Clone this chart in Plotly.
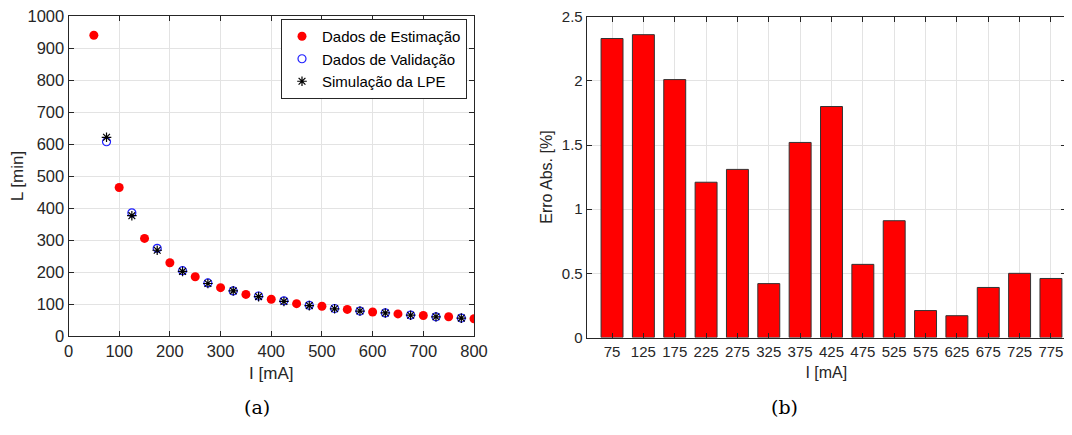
import plotly.graph_objects as go

# ---- data ----
est_I = [50, 100, 150, 200, 250, 300, 350, 400, 450, 500, 550, 600, 650, 700, 750, 800]
est_L = [940, 464, 305, 229, 185, 151, 130, 115, 101, 93, 83, 75, 69, 64, 60, 54]

val_I = [75, 125, 175, 225, 275, 325, 375, 425, 475, 525, 575, 625, 675, 725, 775]
val_L = [607, 385, 274, 204, 166, 141, 125, 110, 96, 86, 78, 72, 65.5, 60, 56]
sim_L = [621, 376, 268, 202, 164, 141, 123, 108, 95, 85, 78, 72, 65, 60, 56]

err_I = [75, 125, 175, 225, 275, 325, 375, 425, 475, 525, 575, 625, 675, 725, 775]
err_pct = [2.33, 2.36, 2.01, 1.21, 1.31, 0.42, 1.52, 1.80, 0.57, 0.91, 0.21, 0.17, 0.39, 0.50, 0.46]
err_labels = [str(v) for v in err_I]

# page body has an 8px default margin: figure is placed at (8, 8) in the window
OFF = 8
W, H = 1064, 427
FONT = "Liberation Sans"
AX = "#262626"
GRID = "#e3e3e3"

def px(x):
    return (x - OFF) / W

def py(y):
    return 1 - (y - OFF) / H

fig = go.Figure()

fig.add_trace(go.Scatter(
    x=est_I, y=est_L, mode="markers", name="Dados de Estimação",
    marker=dict(symbol="circle", size=9, color="#ff0000", line=dict(width=0)),
    xaxis="x", yaxis="y"))
fig.add_trace(go.Scatter(
    x=val_I, y=val_L, mode="markers", name="Dados de Validação",
    marker=dict(symbol="circle-open", size=8, color="#2020ff", line=dict(width=1.2)),
    xaxis="x", yaxis="y"))
fig.add_trace(go.Scatter(
    x=val_I, y=sim_L, mode="markers", name="Simulação da LPE",
    marker=dict(symbol="asterisk-open", size=8, color="#000000", line=dict(width=1.2, color="#000000")),
    xaxis="x", yaxis="y"))

fig.add_trace(go.Bar(
    x=err_I, y=err_pct, width=35, showlegend=False,
    marker=dict(color="#ff0000", line=dict(color="#333333", width=1)),
    xaxis="x2", yaxis="y2"))

common = dict(
    showline=True, linecolor=AX, linewidth=1, mirror="ticks",
    ticks="inside", ticklen=5, tickcolor=AX, tickwidth=1,
    showgrid=True, gridcolor=GRID, gridwidth=1, zeroline=False,
    color=AX, automargin=False, ticklabeloverflow="allow",
)

fig.update_layout(
    width=W, height=H, autosize=False,
    margin=dict(l=0, r=0, t=0, b=0, autoexpand=False),
    paper_bgcolor="white", plot_bgcolor="white",
    font=dict(family=FONT, color=AX),
    showlegend=True,
    legend=dict(
        x=px(281), y=py(19), xanchor="left", yanchor="top",
        bgcolor="white", bordercolor=AX, borderwidth=1,
        font=dict(family=FONT, size=15, color="#000000"),
        tracegroupgap=0,
    ),
    xaxis=dict(
        domain=[px(68.5), px(474)], range=[0, 800], anchor="y",
        tickvals=[0, 100, 200, 300, 400, 500, 600, 700, 800],
        tickfont=dict(size=16.5),
        title=dict(text="I [mA]", font=dict(size=17), standoff=8),
        **common),
    yaxis=dict(
        domain=[py(336), py(16)], range=[0, 1000], anchor="x",
        tickvals=[0, 100, 200, 300, 400, 500, 600, 700, 800, 900, 1000],
        tickfont=dict(size=16.5),
        title=dict(text="L [min]", font=dict(size=17), standoff=2),
        **common),
    xaxis2=dict(
        domain=[px(586.7), px(1066)], range=[34.6, 799], anchor="y2",
        tickvals=err_I, ticktext=err_labels,
        tickfont=dict(size=15),
        title=dict(text="I [mA]", font=dict(size=16), standoff=8),
        **common),
    yaxis2=dict(
        domain=[py(337.5), py(16.7)], range=[0, 2.5], anchor="x2",
        tickvals=[0, 0.5, 1, 1.5, 2, 2.5],
        tickfont=dict(size=15),
        title=dict(text="Erro Abs. [%]", font=dict(size=16), standoff=5),
        **common),
    annotations=[
        dict(text="(a)", x=px(242), y=py(420), xref="paper", yref="paper",
             showarrow=False, font=dict(family="DejaVu Serif", size=19, color="#000000")),
        dict(text="(b)", x=px(800), y=py(420), xref="paper", yref="paper",
             showarrow=False, font=dict(family="DejaVu Serif", size=19, color="#000000")),
    ],
)

fig.write_html("out.html")
